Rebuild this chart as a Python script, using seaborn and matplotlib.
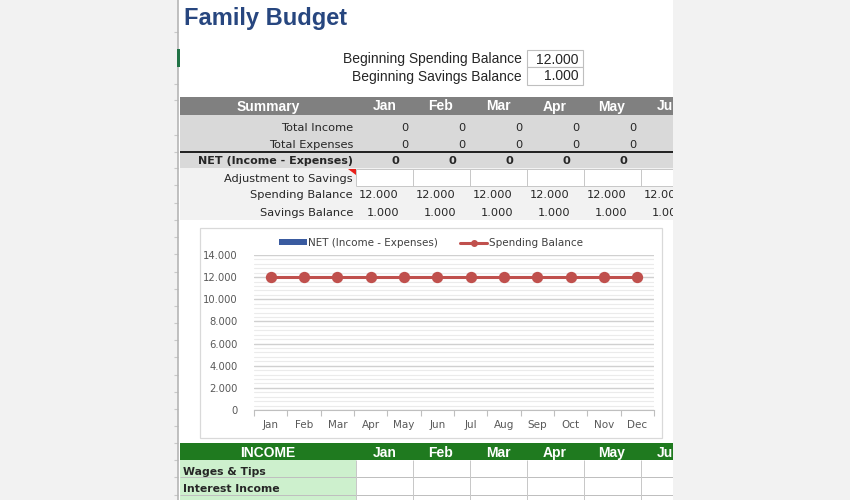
import matplotlib
matplotlib.use('Agg')
import matplotlib.pyplot as plt
import seaborn as sns
from matplotlib.patches import Rectangle, Polygon, Patch
from matplotlib.lines import Line2D
from matplotlib.ticker import FixedLocator, MultipleLocator, FuncFormatter

# ---------------- data ----------------
months = ['Jan', 'Feb', 'Mar', 'Apr', 'May', 'Jun',
          'Jul', 'Aug', 'Sep', 'Oct', 'Nov', 'Dec']
net_values = [0, 0, 0, 0, 0, 0, 0, 0, 0, 0, 0, 0]
spending_balance = [12000, 12000, 12000, 12000, 12000, 12000,
                    12000, 12000, 12000, 12000, 12000, 12000]
savings_balance = [1000, 1000, 1000, 1000, 1000, 1000,
                   1000, 1000, 1000, 1000, 1000, 1000]
total_income = [0, 0, 0, 0, 0, 0, 0, 0, 0, 0, 0, 0]
total_expenses = [0, 0, 0, 0, 0, 0, 0, 0, 0, 0, 0, 0]
beginning_spending = 12000
beginning_savings = 1000
y_ticks = [0, 2000, 4000, 6000, 8000, 10000, 12000, 14000]
income_labels = ['Wages & Tips', 'Interest Income', 'Dividends']
visible_months = months[:6]


def fmt(v):
    return f"{v:,.0f}".replace(',', '.')


sns.set_style('white')
plt.rcParams['font.family'] = ['DejaVu Sans']

BLUE = '#3a5ba0'
RED = '#c0504d'
GRID = '#bfbfbf'
ARIAL = 'Liberation Sans'

fig = plt.figure(figsize=(8.5, 5), dpi=100)
bg = fig.add_axes([0, 0, 1, 1])
bg.set_xlim(0, 850)
bg.set_ylim(500, 0)
bg.axis('off')


def rect(x0, y0, x1, y1, fc, ec='none', lw=0, z=1):
    bg.add_patch(Rectangle((x0, y0), x1 - x0, y1 - y0, facecolor=fc,
                           edgecolor=ec, linewidth=lw, zorder=z))


def hline(y, x0, x1, color, lw=0.72, z=2):
    bg.plot([x0, x1], [y, y], color=color, lw=lw, zorder=z, solid_capstyle='butt')


def vline(x, y0, y1, color, lw=0.72, z=2):
    bg.plot([x, x], [y0, y1], color=color, lw=lw, zorder=z, solid_capstyle='butt')


# sheet and margins
rect(0, 0, 850, 500, 'white', z=0)
rect(0, 0, 178, 500, '#f2f2f2', z=1)
vline(178.5, 0, 500, '#b5b5b5', lw=1.2, z=3)
for ry in [32, 84, 100, 135, 152, 168, 185, 203, 220, 237, 254, 272, 289,
           306, 323, 340, 357, 375, 392, 409, 426, 443, 460, 477, 495]:
    hline(ry, 174, 178, '#c8c8c8', lw=0.8)
rect(177, 49, 180, 67, '#217346', z=4)

col_left = [356, 413, 470, 527, 584, 641]
col_center = [385, 441, 498, 555, 612, 669]

# title
bg.text(184, 25.5, 'Family Budget', fontsize=17, fontweight='bold',
        color='#27467f', family=ARIAL, va='baseline', ha='left')

# beginning balances
bg.text(522, 63.5, 'Beginning Spending Balance', fontsize=10, family=ARIAL,
        ha='right', va='baseline')
bg.text(522, 80.5, 'Beginning Savings Balance', fontsize=10, family=ARIAL,
        ha='right', va='baseline')
rect(527, 49.5, 583, 67, 'white', ec='#bfbfbf', lw=0.8, z=2)
rect(527, 67, 583, 84.5, 'white', ec='#bfbfbf', lw=0.8, z=2)
bg.text(579, 63.5, fmt(beginning_spending), fontsize=10, family=ARIAL,
        ha='right', va='baseline')
bg.text(579, 80.5, fmt(beginning_savings), fontsize=10, family=ARIAL,
        ha='right', va='baseline')

# summary header
rect(180, 97, 673, 115, '#808080', z=2)
bg.text(268, 110.5, 'Summary', fontsize=10, fontweight='bold', color='white',
        family=ARIAL, ha='center', va='baseline', zorder=5)
for cx, m in zip(col_center, visible_months):
    bg.text(cx, 110.5, m, fontsize=10, fontweight='bold', color='white',
            family=ARIAL, ha='center', va='baseline', zorder=5)

rect(180, 115, 673, 168, '#d9d9d9', z=2)
rect(180, 168, 673, 220, '#f2f2f2', z=2)
hline(151.5, 180, 673, 'black', lw=1.2, z=4)

LS = 8.2
bg.text(353, 131, 'Total Income', fontsize=LS, ha='right', va='baseline', zorder=5)
bg.text(353, 148, 'Total Expenses', fontsize=LS, ha='right', va='baseline', zorder=5)
bg.text(353, 164.5, 'NET (Income - Expenses)', fontsize=LS - 0.2, fontweight='bold',
        ha='right', va='baseline', zorder=5)
bg.text(353, 181.5, 'Adjustment to Savings', fontsize=LS, ha='right', va='baseline', zorder=5)
bg.text(353, 198.5, 'Spending Balance', fontsize=LS, ha='right', va='baseline', zorder=5)
bg.text(353, 215.5, 'Savings Balance', fontsize=LS, ha='right', va='baseline', zorder=5)

# adjustment cells
rect(356, 168.5, 673, 186, 'white', z=3)
hline(168.5, 356, 673, '#c8c8c8', z=4)
hline(186, 356, 673, '#c8c8c8', z=4)
for xl in col_left:
    vline(xl, 168.5, 186, '#c8c8c8', z=4)
bg.add_patch(Polygon([(348, 168.5), (356, 168.5), (356, 175)], closed=True,
                     facecolor='#e8201a', edgecolor='none', zorder=6))

for i, xl in enumerate(col_left):
    bg.text(xl + 53, 131, fmt(total_income[i]), fontsize=LS, ha='right',
            va='baseline', zorder=5)
    bg.text(xl + 53, 148, fmt(total_expenses[i]), fontsize=LS, ha='right',
            va='baseline', zorder=5)
    bg.text(xl + 43, 164.5, fmt(net_values[i]), fontsize=LS, fontweight='bold',
            ha='right', va='baseline', zorder=5)
    bg.text(xl + 43, 198.5, fmt(spending_balance[i]), fontsize=LS, ha='right',
            va='baseline', zorder=5)
    bg.text(xl + 43, 215.5, fmt(savings_balance[i]), fontsize=LS, ha='right',
            va='baseline', zorder=5)

# chart frame
rect(200, 228, 662, 437.5, 'white', ec='#d9d9d9', lw=0.9, z=3)

# income section
rect(180, 443, 673, 460, '#1f7a1f', z=3)
bg.text(268, 457, 'INCOME', fontsize=10, fontweight='bold', color='white',
        family=ARIAL, ha='center', va='baseline', zorder=5)
for cx, m in zip(col_center, visible_months):
    bg.text(cx, 457, m, fontsize=10, fontweight='bold', color='white',
            family=ARIAL, ha='center', va='baseline', zorder=5)
rect(180, 460, 356, 500, '#cdf0cd', z=3)
for yy in [477, 494.5]:
    hline(yy, 180, 673, '#bfbfbf', z=4)
for xl in col_left:
    vline(xl, 460, 500, '#c8c8c8', z=4)
for lbl, yb in zip(income_labels, [475, 492, 509.5]):
    bg.text(183, yb, lbl, fontsize=7.8, fontweight='bold', ha='left',
            va='baseline', zorder=5, clip_on=True)

# right margin covers overflow
rect(673, 0, 850, 500, '#f2f2f2', z=50)

# ---------------- chart ----------------
ax = fig.add_axes([254 / 850, 90 / 500, 400 / 850, 155 / 500])
ax.patch.set_alpha(0)
sns.barplot(x=months, y=net_values, color=BLUE, ax=ax, width=0.6)
sns.pointplot(x=months, y=spending_balance, color=RED, ax=ax, markers='o',
              errorbar=None, markersize=6.5, linewidth=2.2)
ax.set_xlim(-0.5, 11.5)
ax.set_ylim(0, 14000)
ax.set_xlabel('')
ax.set_ylabel('')
ax.yaxis.set_major_locator(FixedLocator(y_ticks))
ax.yaxis.set_minor_locator(MultipleLocator(400))
ax.yaxis.set_major_formatter(FuncFormatter(lambda v, p: fmt(v)))
ax.set_axisbelow(True)
ax.grid(axis='y', which='major', color='#d0d0d0', lw=1.0)
ax.grid(axis='y', which='minor', color='#ebebeb', lw=0.8)
ax.grid(axis='x', which='both', visible=False)
for s in ['left', 'right', 'top']:
    ax.spines[s].set_visible(False)
ax.spines['bottom'].set_color(GRID)
ax.spines['bottom'].set_linewidth(0.8)
ax.xaxis.set_minor_locator(FixedLocator([i - 0.5 for i in range(13)]))
ax.tick_params(axis='x', which='major', length=0, pad=7, labelsize=7.5,
               labelcolor='#595959')
ax.tick_params(axis='x', which='minor', length=4, width=0.8, color=GRID,
               direction='out', bottom=True)
ax.tick_params(axis='y', which='both', length=0, pad=12, labelsize=7.2,
               labelcolor='#595959')

handles = [Patch(facecolor=BLUE, edgecolor='none'),
           Line2D([], [], color=RED, lw=2.2, marker='o', markersize=4)]
fig.legend(handles=handles, labels=['NET (Income - Expenses)', 'Spending Balance'],
           loc='center', bbox_to_anchor=(431 / 850, 1 - 243 / 500), ncol=2,
           frameon=False, fontsize=7.5, handlelength=2.6, handletextpad=0.1,
           columnspacing=2.2, labelcolor='#404040', handleheight=0.55)

fig.savefig('out.png', dpi=100)
